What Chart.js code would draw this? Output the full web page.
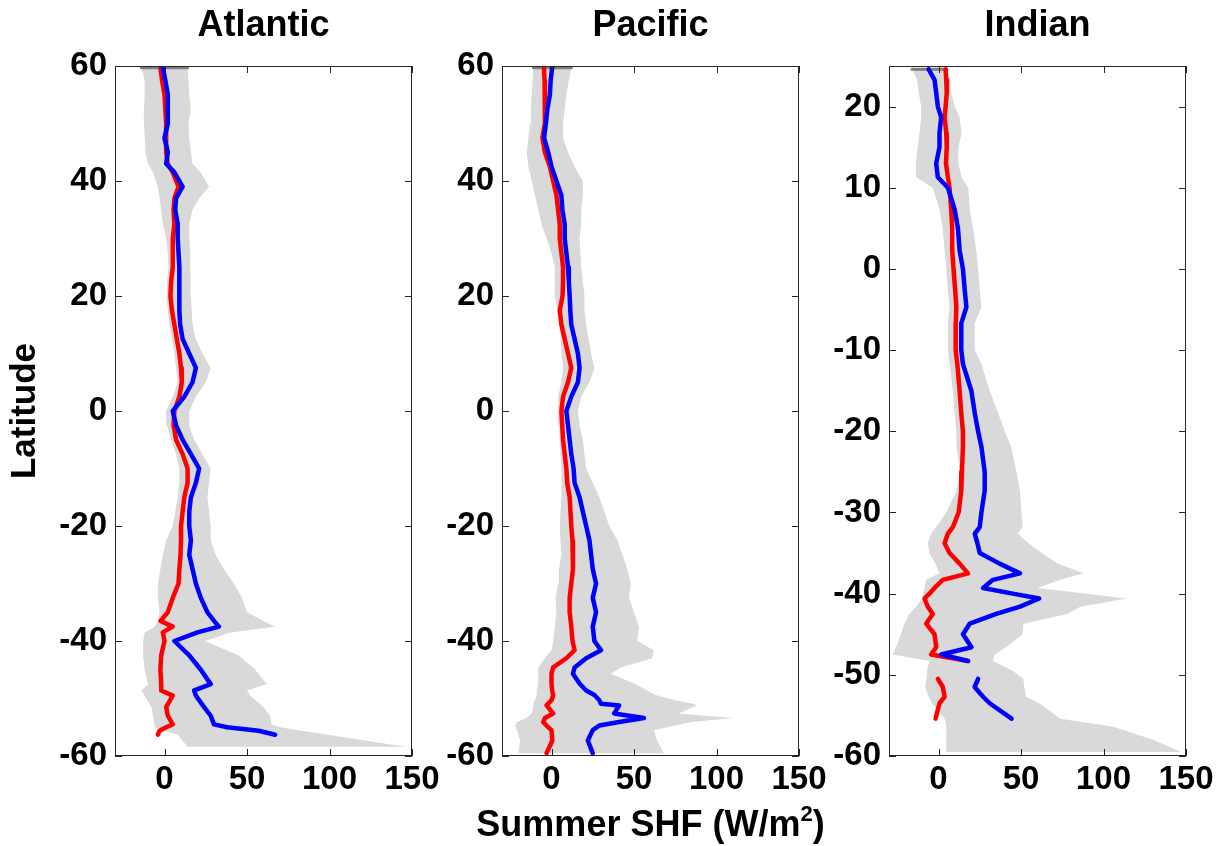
<!DOCTYPE html>
<html>
<head>
<meta charset="utf-8">
<script src="https://cdn.jsdelivr.net/npm/chart.js@4.4.1/dist/chart.umd.min.js"></script>
<style>
  body { margin: 0; background: #fff; }
  #wrap { position: relative; width: 1227px; height: 846px; }
  canvas { position: absolute; left: 0; top: 0; }
  #xlabel {
    position: absolute; left: 502px; width: 297px; top: 803px;
    text-align: center; white-space: nowrap;
    font: bold 36px 'Liberation Sans', Arial, sans-serif; line-height: 42px;
    display: flex; justify-content: center;
  }
  #xlabel sup { font-size: 22px; line-height: 0; position: relative; top: -2px; }
</style>
</head>
<body>
<div id="wrap">
  <canvas id="atl" width="1227" height="846"></canvas>
  <canvas id="pac" width="1227" height="846"></canvas>
  <canvas id="ind" width="1227" height="846"></canvas>
  <div id="xlabel"><span>Summer SHF (W/m<sup>2</sup>)</span></div>
</div>
<script>
// tick labels
const xTicks = [0, 50, 100, 150];
const atlYTicks = [-60, -40, -20, 0, 20, 40, 60];
const pacYTicks = [-60, -40, -20, 0, 20, 40, 60];
const indYTicks = [-60, -50, -40, -30, -20, -10, 0, 10, 20];

// Atlantic: latitude, red / blue curves, grey band (low / high edge)
const atlLat  = [59.7, 57.5, 55, 52.5, 50, 47.5, 45, 43, 41.5, 39, 37, 35, 32.5, 30, 27.5, 25, 22.5, 20, 17.5, 15, 12.5, 10, 7.5, 5, 2.5, 0, -2.5, -5, -7.5, -10, -12.5, -15, -17.5, -20, -22.5, -25, -27.5, -30, -32.5, -35, -36.5, -37.5, -38.5, -40, -42.5, -45, -47.5, -48.6, -49.5, -51.5, -53, -54.5, -55, -55.6, -56.3, -58.4];
const atlRed  = [-2.5, -1.5, 0, 0.5, 1, 1, 1, 2, 5, 8.5, 6, 5.5, 6, 5, 5, 5, 4, 3.6, 4.5, 6, 7.5, 9, 10, 10.5, 9, 6, 5.5, 7, 11, 14, 14, 12, 11, 10, 10, 9.7, 9, 8.5, 5, 2, -2.4, 5, -1, 0, -2, -2.5, -2, -2, 5, 1, 2, 5, 1, -3, -4, null];
const atlBlue = [-1, 0.5, 2, 2, 2, 0, 2, 1, 6, 11, 7, 6.5, 8, 8, 8.5, 9, 9, 9, 9, 9.5, 11, 15, 19, 17, 12, 5, 7, 11, 16, 21, 19, 16, 15, 15, 16, 15, 17, 19, 22, 26, 30, 33, 20, 6, 15, 22, 28, 18, 19, 24, 28, 30, 38, 57, 67, null];
const atlLo   = [-14, -12, -12, -12.5, -12.5, -12, -11.5, -10, -7, -4, -3, -2, -1, 1, 2, 2.4, 1.5, 1, 2, 3, 4.5, 6, 7, 8, 5, 1, 1.5, 4, 7, 9, 9, 8, 6.5, 5, 1, -1, -2.5, -4, -4, -3, -4, -6, -12, -13, -13, -12, -10, -14, -12, -8, -7, -6, -6, 0, 8, 14];
const atlHi   = [14, 14.5, 15, 16, 14.5, 15, 16, 17, 22, 27, 21, 17, 15, 15, 15.5, 15.7, 16, 16, 16.5, 17, 19, 23, 28, 25, 19, 15, 15, 18, 23, 28, 27, 26, 27, 28, 28, 31, 36, 42, 47, 50, 60, 67, 40, 24.5, 45, 55, 62, 50, 52, 60, 64, 65, 70, 83, 99, 146];

// Pacific
const pacLat  = [59.7, 57.5, 55, 52.5, 50, 47.5, 45, 42.5, 40, 37.5, 35, 32.5, 30, 27.5, 25, 22.5, 20, 17.5, 15, 12.5, 10, 7.5, 5, 2.5, 0, -2.5, -5, -7.5, -10, -12.5, -15, -17.5, -20, -22.5, -25, -27.5, -30, -32.5, -35, -37.5, -40, -41.6, -43, -44.6, -45.7, -47.4, -48.6, -49.4, -50.3, -50.9, -51.2, -52.6, -53.4, -54.1, -54.7, -55.5, -57.3, -59.5];
const pacRed  = [-4.6, -4.2, -4, -4, -4, -5.5, -4, -1, 1, 3, 4, 5, 5, 6, 7, 7, 6.7, 5, 6, 8, 10, 12, 10, 7, 6, 6.5, 7, 8, 9, 9.5, 11, 11.5, 12, 12.7, 13, 13, 12, 11, 11, 12, 12.7, 14, 9, 1, 0, 0, 0.4, 1, 0, -2, -3, 1, -4, -5, -3, 0, 0.5, -3];
const pacBlue = [0.4, -0.5, -1, -2.5, -3.4, -4.5, -2, 0, 3, 6, 6.6, 8, 8, 9, 10, 10.5, 11, 11.4, 12, 14, 16, 17, 16, 12, 9, 10, 11, 12, 13.4, 14, 17, 19, 21, 23, 24, 25, 27, 25, 27, 25, 26, 30, 21, 14, 13, 17, 21, 26, 29, 30, 41, 38, 56, 41, 29, 25, 22, 25];
const pacLo   = [-11, -11.5, -12, -12.5, -13, -14, -15, -14, -12, -10, -8, -6, -3, 0, 2, 2, 2, 3.5, 5, 5.5, 6, 7, 6, 4, 4, 4.5, 5, 5.5, 6, 6, 6, 5.5, 5, 5.5, 6, 4.5, 4, 2.5, 3, 2, 1, 0, -4, -8, -8, -8, -9, -9, -10, -11, -11, -12, -15, -21, -22, -21, -19, -20];
const pacHi   = [12, 10.5, 9, 8, 7, 7, 10, 14, 19, 19, 18, 18, 17, 17.5, 18, 19, 20, 20, 21, 22.5, 24, 26, 23, 18, 16, 17, 19, 20, 21, 25, 29, 32, 35, 40, 43, 46, 48, 47, 50, 53, 52, 62, 61, 42, 36, 50, 58, 63, 75, 86, 88, 77, 110, 85, 75, 62, 64, 68];

// Indian
const indLat  = [24.6, 23.3, 21.7, 20, 18.7, 16.7, 15, 13, 11.3, 10, 7.3, 5, 2.3, 0, -2.6, -4.7, -6.7, -10, -11.7, -15, -17.8, -20, -21.9, -25, -27.3, -30, -31.8, -32.6, -33.8, -35, -36.3, -37.5, -38.3, -39.3, -40, -40.6, -41.6, -42.5, -43.7, -45, -46.6, -47.5, -48.3, -49.5, -50.5, -51.5, -52.7, -53.5, -55.4, -56.4, -58, -59.5];
const indRed  = [4.3, 4.7, 5, 4.3, 3.7, 4.7, 5, 4.5, 5.7, 6.7, 7.7, 8.3, 8.3, 9.1, 10.1, 10.8, 10.5, 10.4, 11.4, 12.8, 13.8, 14.8, 14.8, 14.2, 13.8, 12.2, 8.7, 5.7, 3.7, 6.7, 12.8, 17.9, 2.6, -2.4, -5.5, -8.5, -6.5, -3.5, -7.5, -2.4, -1.4, -4.5, 17.9, null, -0.4, 2.6, 3.7, 0.6, -1.8, null, null, null];
const indBlue = [-6, -2.4, -1.4, -0.4, 1.6, 0.6, 0.6, -1.4, -0.4, 5.7, 9.8, 11.8, 12.8, 14.8, 15.9, 16.9, 13.8, 13.8, 14.8, 19.9, 22, 24, 26, 28, 28, 26, 25, 22, 23.6, 25, 37, 49.4, 33, 27, 45, 61, 49.4, 35, 18.9, 14.8, 20, 1.6, 17.9, null, 24, 21.9, 27, 31, 44.3, null, null, null];
const indLo   = [-16, -13, -12, -10.5, -10.5, -11.5, -12.6, -13.7, -13.5, -3.5, 0.6, 2.6, 3.7, 4.7, 5.7, 6.7, 5.7, 5.7, 6.7, 8.7, 9.8, 10.8, 11, 12.8, 11, 4.7, -1.4, -4.5, -6.5, -5.5, -2, 0.6, -7.5, -8.5, -9.5, -10, -13.6, -17.7, -20.7, -22.8, -25.8, -27.8, -5.5, -7, -7.5, -8, -6, -4, 3.7, 4.7, 4.7, 4.7];
const indHi   = [5, 7, 7.7, 9.8, 12.8, 14, 12, 12, 14, 18, 19, 20.9, 22.9, 24, 25, 26, 22, 22, 26, 31, 36.2, 40.2, 44, 47.3, 49.3, 50.3, 51, 48, 54.5, 62.6, 72, 88, 73.8, 60, 90, 114, 86, 78, 51.4, 51, 41, 34, 33, 45, 51.4, 52, 53, 61, 73.8, 106, 130, 147];

Chart.defaults.font.family = "'Liberation Sans', Arial, sans-serif";
Chart.defaults.font.weight = 'bold';
Chart.defaults.color = '#000';
Chart.defaults.animation = false;

// box round the plot with ticks pointing inwards on all four sides
const frame = {
  id: 'frame',
  afterDatasetsDraw(chart) {
    const {ctx, chartArea: a, scales: {x, y}} = chart;
    const len = 7;
    ctx.save();
    ctx.strokeStyle = '#262626';
    ctx.lineWidth = 1;
    ctx.beginPath();
    x.ticks.forEach(t => {
      const p = Math.round(x.getPixelForValue(t.value)) + 0.5;
      ctx.moveTo(p, a.bottom); ctx.lineTo(p, a.bottom - len);
      ctx.moveTo(p, a.top); ctx.lineTo(p, a.top + len);
    });
    y.ticks.forEach(t => {
      const p = Math.round(y.getPixelForValue(t.value)) + 0.5;
      ctx.moveTo(a.left, p); ctx.lineTo(a.left + len, p);
      ctx.moveTo(a.right, p); ctx.lineTo(a.right - len, p);
    });
    ctx.stroke();
    ctx.strokeRect(Math.round(a.left) + 0.5, Math.round(a.top) + 0.5, Math.round(a.width) - 1, Math.round(a.height) - 1);
    ctx.restore();
  }
};

const pts = (xs, ys) => ys.map((y, i) => ({x: xs[i], y}));

function panel(id, o) {
  const band = pts(o.hi, o.lat).concat(pts(o.lo, o.lat).reverse());
  const cap = [{x: o.lo[0], y: o.lat[0]}, {x: o.hi[0], y: o.lat[0]}];
  new Chart(document.getElementById(id), {
    type: 'line',
    data: {
      datasets: [
        {data: pts(o.blue, o.lat), borderColor: '#0000ff', borderWidth: 4.5},
        {data: pts(o.red, o.lat), borderColor: '#ff0000', borderWidth: 4.5},
        {data: cap, borderColor: '#7f7f7f', borderWidth: 3},
        {data: band, borderWidth: 0, backgroundColor: '#d9d9d9', fill: 'shape'}
      ]
    },
    options: {
      responsive: false,
      events: [],
      layout: {padding: {left: 0, right: 1227 - o.right, top: 0, bottom: 0}},
      elements: {
        point: {radius: 0},
        line: {tension: 0, borderJoinStyle: 'round', borderCapStyle: 'round'}
      },
      plugins: {
        legend: {display: false},
        tooltip: {enabled: false},
        title: {
          display: true, text: o.title, fullSize: false,
          font: {size: 36, weight: 'bold'},
          padding: {top: 4.4, bottom: 18.4}
        }
      },
      scales: {
        x: {
          type: 'linear', min: -30, max: 150,
          afterBuildTicks: s => { s.ticks = xTicks.map(v => ({value: v})); },
          afterFit: s => { s.height = 90; },
          grid: {display: false, drawTicks: false},
          border: {display: false},
          ticks: {padding: 4, font: {size: 33}, maxRotation: 0, autoSkip: false, callback: v => String(v)}
        },
        y: {
          type: 'linear', min: o.yMin, max: o.yMax,
          afterBuildTicks: s => { s.ticks = o.yTicks.map(v => ({value: v})); },
          afterFit: s => { s.width = o.left; },
          grid: {display: false, drawTicks: false},
          border: {display: false},
          ticks: {padding: 8, font: {size: 33}, autoSkip: false, callback: v => String(v)},
          title: {display: !!o.yTitle, text: o.yTitle || '', font: {size: 35, weight: 'bold'}, padding: {top: 4, bottom: 0}}
        }
      }
    },
    plugins: [frame]
  });
}

panel('atl', {title: 'Atlantic', yTitle: 'Latitude', left: 115, right: 412, yMin: -60, yMax: 60, yTicks: atlYTicks,
  lat: atlLat, red: atlRed, blue: atlBlue, lo: atlLo, hi: atlHi});
panel('pac', {title: 'Pacific', left: 502, right: 799, yMin: -60, yMax: 60, yTicks: pacYTicks,
  lat: pacLat, red: pacRed, blue: pacBlue, lo: pacLo, hi: pacHi});
panel('ind', {title: 'Indian', left: 889, right: 1186, yMin: -60, yMax: 25, yTicks: indYTicks,
  lat: indLat, red: indRed, blue: indBlue, lo: indLo, hi: indHi});
</script>
</body>
</html>
